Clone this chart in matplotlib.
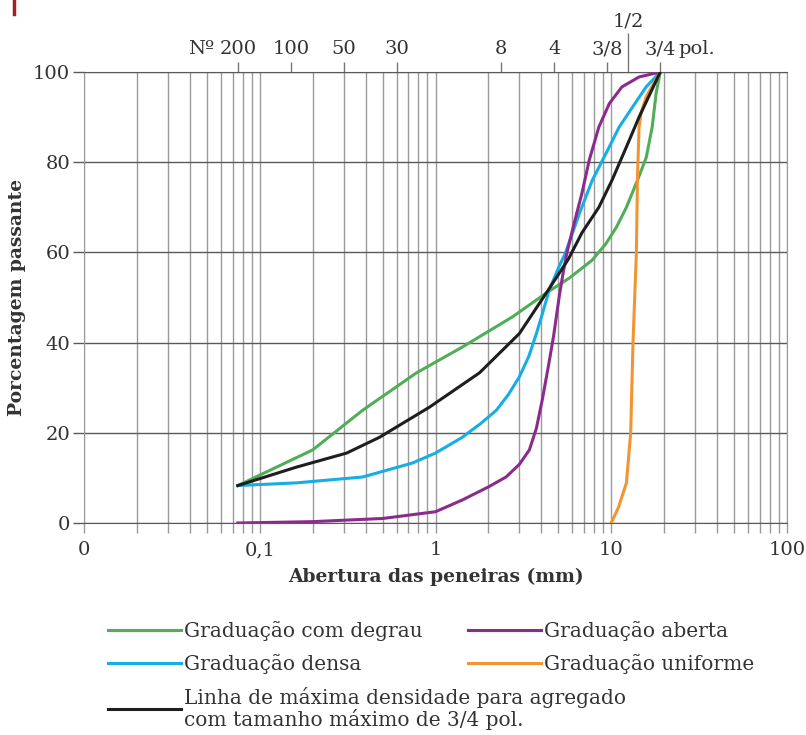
import matplotlib
matplotlib.use("Agg")
import matplotlib.pyplot as plt
from matplotlib.lines import Line2D
from matplotlib.ticker import FixedLocator, NullFormatter

plt.rcParams['font.family'] = ['DejaVu Serif']

# curves: sieve opening (mm) vs percent passing
degrau_mm = [0.075, 0.2, 0.385, 0.78, 1.42, 2.74, 4.27, 5.77, 7.8, 9.35, 10.7, 12.2, 14.1, 15.8, 17.1, 18.0, 19.0]
degrau_pct = [8.3, 16.2, 25.0, 33.3, 39.0, 45.7, 51.0, 54.3, 58.3, 62.0, 65.6, 70.0, 76.0, 81.0, 87.8, 95.3, 100.0]

densa_mm = [0.075, 0.162, 0.385, 0.74, 1.0, 1.42, 1.8, 2.22, 2.6, 3.0, 3.4, 3.75, 4.1, 4.44, 5.0, 5.5,
            6.6, 7.8, 9.35, 11.1, 13.2, 15.8, 19.0]
densa_pct = [8.3, 8.9, 10.2, 13.3, 15.5, 19.0, 22.0, 25.0, 28.5, 32.4, 37.0, 42.0, 47.0, 51.7, 56.5, 60.0,
             68.7, 76.0, 82.0, 87.8, 92.2, 96.7, 100.0]

aberta_mm = [0.075, 0.2, 0.5, 1.0, 1.42, 2.0, 2.52, 3.0, 3.42, 3.75, 4.05, 4.4, 4.7, 5.07, 5.3, 5.6,
             6.2, 6.8, 7.5, 8.5, 9.75, 11.5, 14.4, 19.0]
aberta_pct = [0.0, 0.3, 1.0, 2.5, 5.1, 8.0, 10.2, 13.0, 16.2, 21.0, 27.3, 35.0, 41.5, 50.5, 55.0, 60.0,
              67.0, 73.0, 80.5, 87.8, 93.0, 96.7, 98.9, 100.0]

uniforme_mm = [10.0, 11.0, 12.2, 12.9, 13.3, 13.9, 14.1, 14.4, 14.8, 15.8, 19.0]
uniforme_pct = [0.0, 3.5, 8.9, 20.0, 40.0, 60.0, 76.7, 87.8, 91.0, 94.5, 100.0]

maxdens_mm = [0.075, 0.162, 0.312, 0.48, 0.925, 1.78, 3.0, 4.27, 5.7, 6.8, 8.5, 10.1, 12.2, 14.4, 19.0]
maxdens_pct = [8.3, 12.4, 15.5, 19.0, 25.7, 33.3, 42.0, 51.0, 58.5, 64.3, 70.0, 76.0, 83.4, 90.0, 100.0]

# sieve sizes on the top axis
sieve_mm = [0.075, 0.15, 0.3, 0.6, 2.36, 4.75, 9.5, 19.0]
sieve_labels = ['200', '100', '50', '30', '8', '4', '3/8', '3/4']
half_mm = [12.5]
half_label = ['1/2']

x_ticks = [0.01, 0.1, 1, 10, 100]
x_labels = ['0', '0,1', '1', '10', '100']
y_ticks = [0, 20, 40, 60, 80, 100]

vgrid = '#9a9a9a'
hgrid = '#5a5a5a'
txt = '#333333'

fig = plt.figure(figsize=(8.06, 7.35), dpi=100)
ax = fig.add_axes([84/806, 1 - 523/735, 703/806, 451/735])

ax.set_xscale('log')
ax.set_xlim(0.01, 100)
ax.set_ylim(0, 100)

lw = 2.2
l_degrau, = ax.plot(degrau_mm, degrau_pct, color='#4fae57', lw=lw, zorder=3)
l_densa, = ax.plot(densa_mm, densa_pct, color='#17ade6', lw=lw, zorder=3)
l_max, = ax.plot(maxdens_mm, maxdens_pct, color='#1e1e1e', lw=lw, zorder=4)
l_aberta, = ax.plot(aberta_mm, aberta_pct, color='#8b2b8d', lw=lw, zorder=3)
l_unif, = ax.plot(uniforme_mm, uniforme_pct, color='#f29432', lw=lw, zorder=3)

# grid
ax.xaxis.set_major_locator(FixedLocator(x_ticks))
ax.xaxis.set_minor_locator(FixedLocator([m * 10.0**e for e in range(-2, 2) for m in range(2, 10)]))
ax.xaxis.set_minor_formatter(NullFormatter())
ax.set_xticklabels(x_labels)
ax.set_yticks(y_ticks)
ax.grid(True, which='both', axis='x', color=vgrid, lw=1.0)
ax.grid(True, which='major', axis='y', color=hgrid, lw=1.0)
ax.tick_params(axis='x', which='both', direction='out', length=7, color=vgrid, width=1.0,
               labelsize=14, pad=6, labelcolor=txt)
ax.tick_params(axis='y', direction='out', length=8, color=hgrid, width=1.0,
               labelsize=14, pad=2, labelcolor=txt)
for side in ['left', 'right']:
    ax.spines[side].set_color(vgrid)
for side in ['top', 'bottom']:
    ax.spines[side].set_color(hgrid)

# sieve axis on top
top = ax.secondary_xaxis('top')
top.set_xticks(sieve_mm, sieve_labels)
top.set_xticks(half_mm, half_label, minor=True)
top.tick_params(which='major', direction='out', length=7, color='#777777', width=1.0,
                labelsize=14, pad=3, labelcolor=txt)
top.tick_params(which='minor', direction='out', length=28, color='#777777', width=1.0,
                labelsize=14, pad=2, labelcolor=txt)
top.spines['top'].set_visible(False)
ax.annotate('Nº', xy=(sieve_mm[0], 1), xycoords=('data', 'axes fraction'), xytext=(-17, 10),
            textcoords='offset points', ha='right', va='bottom', fontsize=14, color=txt)
ax.annotate('pol.', xy=(sieve_mm[-1], 1), xycoords=('data', 'axes fraction'), xytext=(13, 10),
            textcoords='offset points', ha='left', va='bottom', fontsize=14, color=txt)

ax.set_xlabel('Abertura das peneiras (mm)', fontsize=13.5, fontweight='bold', color=txt, labelpad=6)
ax.set_ylabel('Porcentagem passante', fontsize=13.5, fontweight='bold', color=txt, labelpad=5)

leg_kw = dict(loc='upper left', frameon=False, fontsize=14.5, handlelength=3.6, handletextpad=0.15,
              labelspacing=0.65, borderaxespad=0, borderpad=0)
leg1 = fig.legend([l_degrau, l_densa], ['Graduação com degrau', 'Graduação densa'],
                  bbox_to_anchor=(108/806, 1 - 621/735), **leg_kw)
leg2 = fig.legend([l_aberta, l_unif], ['Graduação aberta', 'Graduação uniforme'],
                  bbox_to_anchor=(468/806, 1 - 621/735), **leg_kw)
leg3 = fig.legend([l_max], ['Linha de máxima densidade para agregado\ncom tamanho máximo de 3/4 pol.'],
                  bbox_to_anchor=(108/806, 1 - 687/735), **leg_kw)
for leg in (leg1, leg2, leg3):
    for t in leg.get_texts():
        t.set_color(txt)
        t.set_linespacing(1.05)

# little red mark in the corner
fig.add_artist(Line2D([14/806, 14/806], [1.0, 1 - 14/735], color='#a0202a', lw=2.5))

fig.savefig('out.png', dpi=100)
